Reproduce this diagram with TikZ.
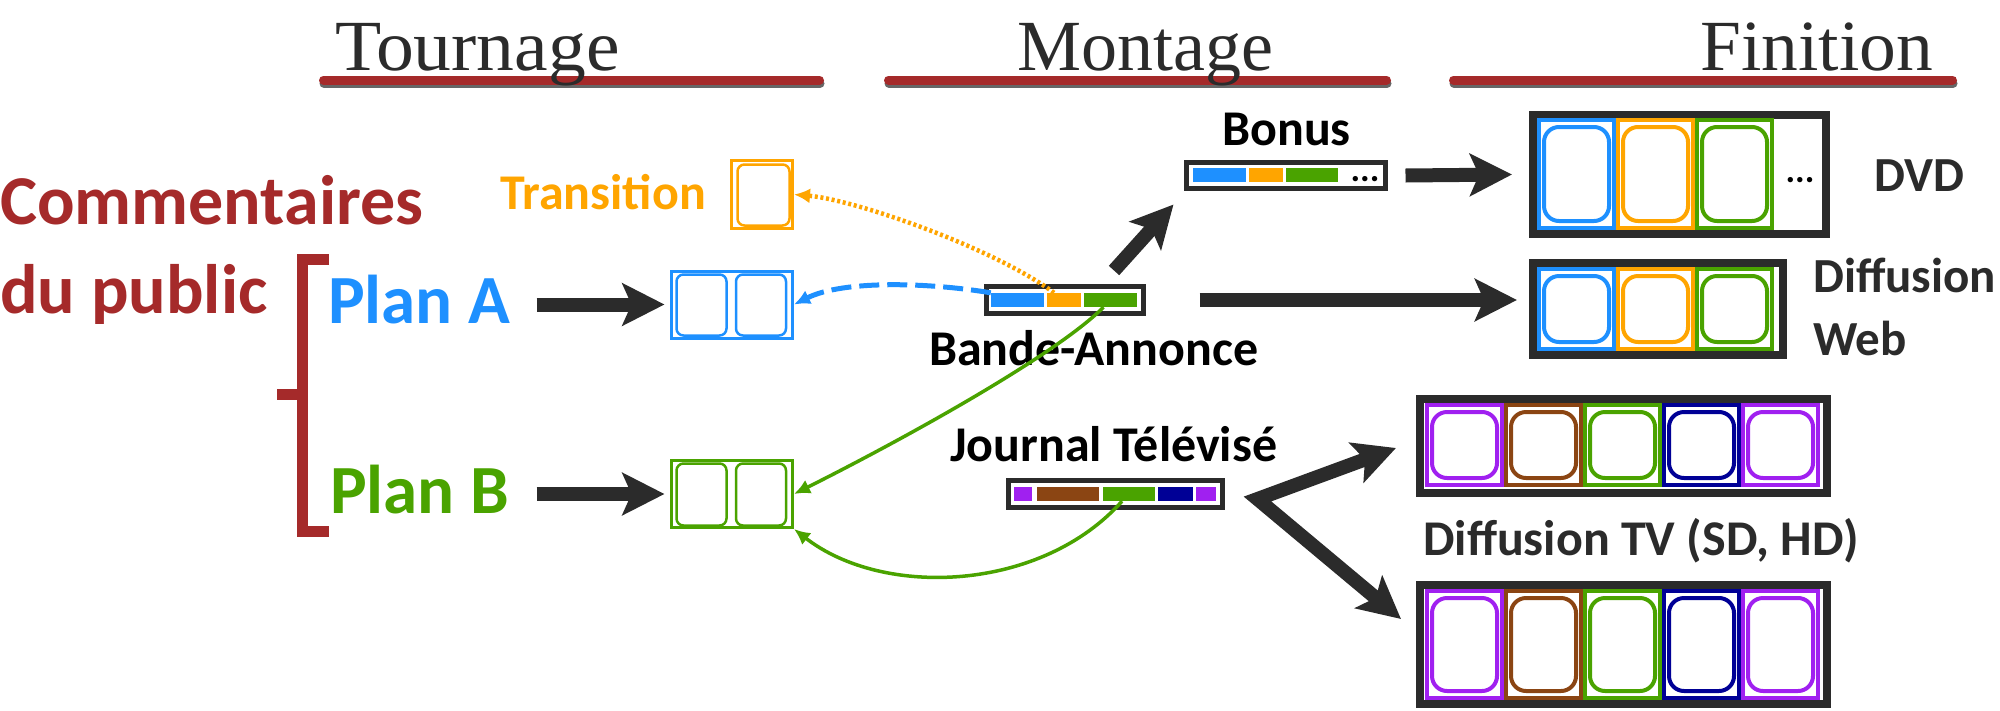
\documentclass[tikz,border=0pt]{standalone}
\usepackage{fontspec}
\setmainfont{Liberation Serif}
\newfontfamily\carlito{Carlito}
\usetikzlibrary{arrows.meta, calc, positioning}

\definecolor{cred}{HTML}{A52A2A}
\definecolor{cblue}{HTML}{1E90FF}
\definecolor{corange}{HTML}{FFA500}
\definecolor{cgreen}{HTML}{4AA300}
\definecolor{cpurple}{HTML}{A020F0}
\definecolor{cbrown}{HTML}{8B4513}
\definecolor{cnavy}{HTML}{000096}
\definecolor{cdark}{HTML}{2B2B2B}

\tikzstyle{heading} = [%
  font=\fontsize{72}{80}\selectfont,
  text=cdark,
  anchor=base west,
  inner sep=0pt
]
\tikzstyle{lbl} = [%
  font=\carlito\bfseries\fontsize{50}{56}\selectfont,
  anchor=base west,
  inner sep=0pt
]
\tikzstyle{bar} = [%
  rectangle,
  draw=cdark,
  line width=5pt,
  fill=white,
  inner sep=0pt,
  minimum height=27pt
]
\tikzstyle{seg} = [%
  rectangle,
  draw=none,
  inner sep=0pt,
  minimum height=14pt
]
\tikzstyle{strip} = [%
  rectangle,
  draw=cdark,
  line width=8pt,
  inner sep=0pt
]
\tikzstyle{cell} = [%
  rectangle,
  line width=4pt,
  inner sep=0pt,
  minimum width=75pt
]
\tikzstyle{frame} = [%
  rectangle,
  rounded corners=15pt,
  line width=4pt,
  inner sep=0pt,
  minimum width=65pt
]
\tikzstyle{planbox} = [%
  rectangle,
  line width=3pt,
  inner sep=0pt,
  minimum height=68pt
]
\tikzstyle{planframe} = [%
  rectangle,
  rounded corners=7pt,
  line width=2.5pt,
  inner sep=0pt,
  minimum height=61pt
]

\begin{document}
\begin{tikzpicture}[%
  x=1pt, y=-1pt,
  line join=miter,
  bigarrow/.style={%
    draw=cdark, line width=14pt,
    -{Stealth[length=42pt,width=42pt,inset=9pt]}
  },
  thinarrow/.style={%
    line width=3.5pt,
    -{Latex[length=16pt,width=15pt]}
  },
  underline/.style={draw=cred, line width=9pt, line cap=round},
  shadowline/.style={draw=black!60, line width=9pt, line cap=round}
]
  \useasboundingbox (0,0) rectangle (2000,710);

  % Headings
  \draw[shadowline] (324,83.5) -- (820,83.5);
  \draw[shadowline] (889,83.5) -- (1387,83.5);
  \draw[shadowline] (1454,83.5) -- (1953,83.5);
  \draw[underline] (323.5,80) -- (819.5,80);
  \draw[underline] (888.5,80) -- (1386.5,80);
  \draw[underline] (1453.5,80) -- (1952.5,80);
  \node[heading,font=\fontsize{72}{80}\selectfont\addfontfeature{FakeStretch=1.05}] (tournage) at (335,70) {Tournage};
  \node[heading] (montage) at (1017,70) {Montage};
  \node[heading,font=\fontsize{72}{80}\selectfont\addfontfeature{FakeStretch=1.02}] (finition) at (1700,70) {Finition};

  % Public comments
  \node[lbl,text=cred,font=\carlito\bfseries\fontsize{70}{76}\selectfont] (comm1) at (0,224) {Commentaires};
  \node[lbl,text=cred,font=\carlito\bfseries\fontsize{70}{76}\selectfont] (comm2) at (0,313) {du public};
  \draw[cred,line width=11pt] (329,259) -- (302.5,259) -- (302.5,531.5) -- (329,531.5);
  \draw[cred,line width=11pt] (277,394.5) -- (302.5,394.5);

  % Plans
  \node[lbl,text=cblue,font=\carlito\bfseries\fontsize{69}{76}\selectfont] (planA) at (328,323) {Plan A};
  \node[lbl,text=cgreen,font=\carlito\bfseries\fontsize{69}{76}\selectfont] (planB) at (330,513) {Plan B};
  \node[lbl,text=corange] (trans) at (500,209) {Transition};

  \node[planbox,draw=corange,minimum width=61pt] (boxT) at (762,194.5) {};
  \node[planframe,draw=corange,minimum width=52pt] at (763.5,195) {};
  \node[planbox,draw=cblue,minimum width=121pt,minimum height=67pt] (boxA) at (732,304.5) {};
  \node[planframe,draw=cblue,minimum width=50pt] at (701.5,305) {};
  \node[planframe,draw=cblue,minimum width=50pt] at (761,305) {};
  \node[planbox,draw=cgreen,minimum width=121pt,minimum height=67pt] (boxB) at (732,494) {};
  \node[planframe,draw=cgreen,minimum width=50pt,minimum height=62pt] at (701.5,494.5) {};
  \node[planframe,draw=cgreen,minimum width=50pt,minimum height=62pt] at (761,494.5) {};

  % Montage bars
  \node[bar,minimum width=157pt] (babar) at (1065,300) {};
  \node[seg,fill=cblue,minimum width=53pt] (ba1) at (1017.5,300) {};
  \node[seg,fill=corange,minimum width=34pt] (ba2) at (1064,300) {};
  \node[seg,fill=cgreen,minimum width=53pt] (ba3) at (1110.5,300) {};
  \node[lbl] (batext) at (929,365) {Bande-Annonce};

  \node[bar,minimum width=199pt,minimum height=26pt] (bonus) at (1286,175.5) {};
  \node[seg,fill=cblue,minimum width=53pt] (bo1) at (1219.5,175) {};
  \node[seg,fill=corange,minimum width=34pt] (bo2) at (1266,175) {};
  \node[seg,fill=cgreen,minimum width=52pt] (bo3) at (1312,175) {};
  \node[lbl,font=\carlito\bfseries\fontsize{36}{40}\selectfont,anchor=base] (bodots) at (1365,181) {...};
  \node[lbl] (bonustext) at (1222,145) {Bonus};

  \node[bar,minimum width=214pt] (jtbar) at (1115.5,494) {};
  \node[seg,fill=cpurple,minimum width=18pt] (jt1) at (1023,494) {};
  \node[seg,fill=cbrown,minimum width=62pt] (jt2) at (1068,494) {};
  \node[seg,fill=cgreen,minimum width=52pt] (jt3) at (1129,494) {};
  \node[seg,fill=cnavy,minimum width=35pt] (jt4) at (1175.5,494) {};
  \node[seg,fill=cpurple,minimum width=20pt] (jt5) at (1206,494) {};
  \node[lbl] (jttext) at (950,461) {Journal Télévisé};

  % Finition strips
  \node[strip,minimum width=293pt,minimum height=119pt] (dvd) at (1679.5,174.5) {};
  \foreach \c [count=\i] in {cblue,corange,cgreen} {
    \node[cell,draw=\c,minimum height=108pt] (dvd\i) at ({1537+39.5+79*(\i-1)},174) {};
    \node[frame,draw=\c,minimum height=94pt] at (dvd\i) {};
  }
  \node[lbl,font=\carlito\bfseries\fontsize{36}{40}\selectfont,anchor=base] (dvddots) at (1800,182) {...};
  \node[lbl,text=cdark,font=\carlito\bfseries\fontsize{49}{54}\selectfont] (dvdtext) at (1874,191) {DVD};

  \node[strip,minimum width=250pt,minimum height=92pt] (web) at (1658,309) {};
  \foreach \c [count=\i] in {cblue,corange,cgreen} {
    \node[cell,draw=\c,minimum height=80pt] (web\i) at ({1537+39.5+79*(\i-1)},309) {};
    \node[frame,draw=\c,minimum height=66pt] at (web\i) {};
  }
  \node[lbl,text=cdark,font=\carlito\bfseries\fontsize{49}{54}\selectfont] (webtext1) at (1813,292) {Diffusion};
  \node[lbl,text=cdark,font=\carlito\bfseries\fontsize{49}{54}\selectfont] (webtext2) at (1813,355) {Web};

  \node[strip,minimum width=407pt,minimum height=94pt] (tv1) at (1623.5,446) {};
  \node[strip,minimum width=407pt,minimum height=119pt] (tv2) at (1623.5,644.5) {};
  \foreach \c [count=\i] in {cpurple,cbrown,cgreen,cnavy,cpurple} {
    \node[cell,draw=\c,minimum height=80pt] (tva\i) at ({1425+39.5+79*(\i-1)},445) {};
    \node[frame,draw=\c,minimum height=66pt] at (tva\i) {};
    \node[cell,draw=\c,minimum height=107pt] (tvb\i) at ({1425+39.5+79*(\i-1)},644.5) {};
    \node[frame,draw=\c,minimum height=93pt] at (tvb\i) {};
  }
  \node[lbl,text=cdark] (tvtext) at (1423,555) {Diffusion TV (SD, HD)};

  % Big arrows
  \draw[bigarrow] ($(boxA.west)+(-133.5,0)$) -- ($(boxA.west)+(-5.5,0)$);
  \draw[bigarrow] ($(boxB.west)+(-133.5,0)$) -- ($(boxB.west)+(-5.5,0)$);
  \draw[bigarrow] ($(babar.north)+(49,-13.5)$) -- ($(bonus.south west)+(-10.5,13.5)$);
  \draw[bigarrow] ($(bonus.east)+(17.5,0)$) -- ($(dvd.west)+(-17,0)$);
  \draw[bigarrow] ($(babar.east)+(53.5,0)$) -- ($(web.west |- babar.east)+(-12,0)$);
  \coordinate (split) at ($(jtbar.east)+(32.5,5)$);
  \draw[bigarrow,{Stealth[length=42pt,width=42pt,inset=9pt]}-{Stealth[length=42pt,width=42pt,inset=9pt]}]
    ($(tv1.west)+(-20,2)$) -- (split) -- ($(tv2.west)+(-15,-25.5)$);

  % Reuse of the shots
  \draw[thinarrow,corange,line width=4.5pt,dash pattern=on 3pt off 2.7pt] ([xshift=-10pt]ba2.north)
    .. controls +(-60,-45) and +(60,5) .. (boxT.east);
  \draw[thinarrow,cblue,line width=5pt,dash pattern=on 20pt off 8pt] (ba1.north west)
    .. controls +(-60,-10) and +(50,-25) .. (boxA.east);
  \draw[thinarrow,cgreen] ([xshift=-7pt]ba3.south)
    .. controls +(-50,50) and +(100,-50) .. (boxB.east);
  \draw[thinarrow,cgreen] ([xshift=-7pt]jt3.south)
    .. controls +(-80,90) and +(90,70) .. (boxB.south east);

\end{tikzpicture}
\end{document}
